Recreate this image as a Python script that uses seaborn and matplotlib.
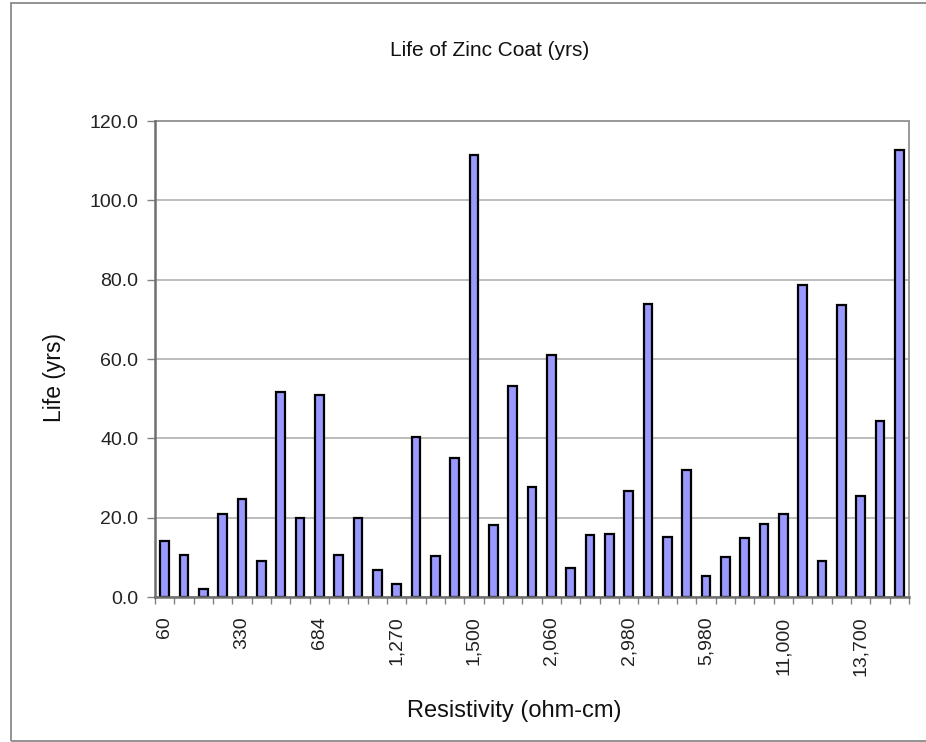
import matplotlib
matplotlib.use("Agg")
import matplotlib.pyplot as plt
import seaborn as sns
import pandas as pd
import numpy as np
from matplotlib.patches import Rectangle

# ---- data ----
life_yrs = [14.0, 10.5, 2.1, 21.0, 24.6, 9.0, 51.7, 19.9, 51.0, 10.7,
            19.8, 6.7, 3.2, 40.3, 10.3, 35.1, 111.5, 18.1, 53.2, 27.8,
            60.9, 7.3, 15.6, 15.8, 26.7, 73.8, 15.1, 32.1, 5.3, 10.1,
            15.0, 18.3, 21.0, 78.6, 9.0, 73.6, 25.5, 44.4, 112.6]
label_positions = [0, 4, 8, 12, 16, 20, 24, 28, 32, 36]
tick_labels = ["60", "330", "684", "1,270", "1,500", "2,060", "2,980",
               "5,980", "11,000", "13,700"]
y_ticks = [0, 20, 40, 60, 80, 100, 120]

df = pd.DataFrame({"idx": [str(i) for i in range(len(life_yrs))],
                   "life": life_yrs})

sns.set_theme(style="white")
plt.rcParams["font.family"] = ["Liberation Sans", "DejaVu Sans"]

W, H = 926, 742
fig = plt.figure(figsize=(W / 100, H / 100), dpi=100)
L, R, T, B = 155, 909, 121, 597
ax = fig.add_axes([L / W, 1 - B / H, (R - L) / W, (B - T) / H])

sns.barplot(data=df, x="idx", y="life", ax=ax, width=0.46,
            color="#9999ff", edgecolor="black", linewidth=1.6,
            saturation=1, zorder=3)
for p in ax.patches:
    p.set_facecolor("#9999ff")

n = len(life_yrs)
ax.set_xlim(-0.5, n - 0.5)
ax.set_ylim(0, 120)
ax.set_yticks(y_ticks)
ax.set_yticklabels([f"{v:.1f}" for v in y_ticks], fontsize=14, color="#222222")
ax.yaxis.grid(True, color="#b0b0b0", linewidth=1.2, zorder=0)
ax.xaxis.grid(False)

# category boundaries as ticks, labels at every 4th category center
ax.set_xticks(np.arange(-0.5, n, 1.0))
ax.set_xticklabels([])
ax.set_xticks(label_positions, minor=True)
ax.set_xticklabels(tick_labels, minor=True, rotation=90, fontsize=14,
                   color="#222222")
ax.tick_params(axis="x", which="major", length=5, width=1, color="#808080",
               direction="out", bottom=True)
ax.tick_params(axis="x", which="minor", length=0, pad=14)
ax.tick_params(axis="y", length=6, width=1, color="#808080", direction="out",
               left=True, pad=6)

for s in ["left", "bottom"]:
    ax.spines[s].set_color("#6e6e6e")
    ax.spines[s].set_linewidth(1.8)
    ax.spines[s].set_zorder(5)
for s in ["top", "right"]:
    ax.spines[s].set_color("#999999")
    ax.spines[s].set_linewidth(1.4)
ax.set_xlabel("")
ax.set_ylabel("")

fig.text(490 / W, 1 - 50 / H, "Life of Zinc Coat (yrs)", ha="center",
         va="center", fontsize=15, color="#111111")
fig.text(55 / W, 1 - 377 / H, "Life (yrs)", ha="center", va="center",
         rotation=90, fontsize=16.5, color="#111111")
fig.text(514 / W, 1 - 711 / H, "Resistivity (ohm-cm)", ha="center",
         va="center", fontsize=17, color="#111111")

fig.patches.append(Rectangle((11 / W, 1 / H), 1.2, 1 - 4 / H,
                             transform=fig.transFigure, fill=False,
                             edgecolor="#8a8a8a", linewidth=1.3))

fig.savefig("out.png", dpi=100)
